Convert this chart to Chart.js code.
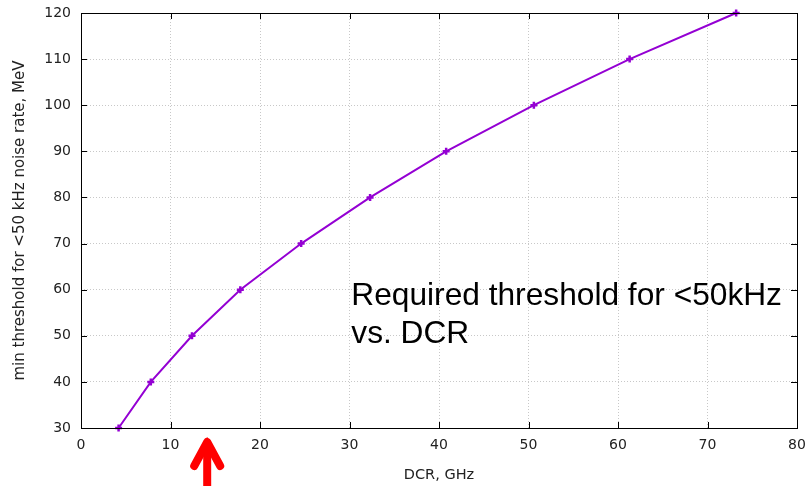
<!DOCTYPE html>
<html>
<head>
<meta charset="utf-8">
<script src="https://cdn.jsdelivr.net/npm/chart.js@4"></script>
<style>
  html, body { margin: 0; padding: 0; background: #fff; }
  #wrap { width: 805px; height: 486px; position: relative; }
</style>
</head>
<body>
<div id="wrap"><canvas id="chart"></canvas></div>
<script>
// Data
const dcrGHz = [4.2, 7.8, 12.4, 17.8, 24.6, 32.3, 40.8, 50.6, 61.3, 73.2];
const thresholdMeV = [30, 40, 50, 60, 70, 80, 90, 100, 110, 120];
const noteLines = ['Required threshold for <50kHz', 'vs. DCR'];
const arrowAt = 14.1; // DCR value under the red arrow

const purple = '#9400d3';
const tickFont = { family: 'DejaVu Sans', size: 14 };

// Frame, inward ticks, note and arrow
const gnuplotFrame = {
    id: 'gnuplotFrame',
    afterDatasetsDraw(chart) {
        const { ctx, chartArea: a, scales } = chart;
        const tl = 6;
        ctx.save();
        ctx.strokeStyle = '#000';
        ctx.lineWidth = 1;
        ctx.beginPath();
        scales.x.ticks.forEach(t => {
            const px = Math.round(scales.x.getPixelForValue(t.value)) + 0.5;
            if (t.value === scales.x.min || t.value === scales.x.max) return;
            ctx.moveTo(px, a.bottom); ctx.lineTo(px, a.bottom - tl);
            ctx.moveTo(px, a.top); ctx.lineTo(px, a.top + tl);
        });
        scales.y.ticks.forEach(t => {
            const py = Math.round(scales.y.getPixelForValue(t.value)) + 0.5;
            if (t.value === scales.y.min || t.value === scales.y.max) return;
            ctx.moveTo(a.left, py); ctx.lineTo(a.left + tl, py);
            ctx.moveTo(a.right, py); ctx.lineTo(a.right - tl, py);
        });
        ctx.stroke();
        ctx.strokeRect(Math.round(a.left) + 0.5, Math.round(a.top) + 0.5,
            Math.round(a.right - a.left), Math.round(a.bottom - a.top));
        ctx.restore();
    },
    afterDraw(chart) {
        const { ctx, chartArea: a, scales } = chart;
        ctx.save();
        // note text
        ctx.fillStyle = '#000';
        ctx.font = '31.7px "Liberation Sans", Arial, sans-serif';
        ctx.textBaseline = 'alphabetic';
        ctx.textAlign = 'left';
        const tx = scales.x.getPixelForValue(30.2);
        const ty = scales.y.getPixelForValue(56.7);
        noteLines.forEach((s, i) => ctx.fillText(s, tx, ty + i * 38));
        // red arrow below the x axis
        const ax = scales.x.getPixelForValue(arrowAt);
        const tipY = a.bottom + 9;
        ctx.strokeStyle = '#ff0000';
        ctx.fillStyle = '#ff0000';
        ctx.lineWidth = 8;
        ctx.lineCap = 'round';
        ctx.lineJoin = 'round';
        ctx.beginPath();
        ctx.moveTo(ax - 13, tipY + 29);
        ctx.lineTo(ax, tipY + 5);
        ctx.lineTo(ax + 13, tipY + 29);
        ctx.stroke();
        ctx.lineCap = 'butt';
        ctx.beginPath();
        ctx.moveTo(ax, tipY + 6);
        ctx.lineTo(ax, chart.height + 2);
        ctx.stroke();
        ctx.beginPath();
        ctx.moveTo(ax, tipY);
        ctx.lineTo(ax - 8, tipY + 13);
        ctx.lineTo(ax + 8, tipY + 13);
        ctx.closePath();
        ctx.fill();
        ctx.restore();
    }
};

new Chart(document.getElementById('chart'), {
    type: 'scatter',
    data: {
        datasets: [{
            data: dcrGHz.map((x, i) => ({ x: x, y: thresholdMeV[i] })),
            showLine: true,
            borderColor: purple,
            backgroundColor: purple,
            borderWidth: 2,
            pointStyle: 'cross',
            pointRadius: 3.5,
            pointBorderWidth: 2.5,
            tension: 0,
            clip: false
        }]
    },
    options: {
        responsive: true,
        maintainAspectRatio: false,
        animation: false,
        layout: { padding: { top: 13, right: 8, left: 0, bottom: 0 } },
        plugins: { legend: { display: false }, tooltip: { enabled: false } },
        scales: {
            x: {
                type: 'linear',
                min: 0, max: 80,
                ticks: { stepSize: 10, color: '#222', font: tickFont, padding: 9, maxRotation: 0 },
                grid: { color: '#c8c8c8', drawTicks: false, lineWidth: 1 },
                border: { display: false, dash: [1, 2] },
                title: { display: true, text: 'DCR, GHz', color: '#222', font: { family: 'DejaVu Sans', size: 14.5 }, padding: { top: 0, bottom: 2 } },
                afterFit(s) { s.height = 58; s.paddingLeft = 0; s.paddingRight = 0; }
            },
            y: {
                type: 'linear',
                min: 30, max: 120,
                ticks: { stepSize: 10, color: '#222', font: tickFont, padding: 10 },
                grid: { color: '#c8c8c8', drawTicks: false, lineWidth: 1 },
                border: { display: false, dash: [1, 2] },
                title: { display: true, text: 'min threshold for <50 kHz noise rate, MeV', color: '#222', font: { family: 'DejaVu Sans', size: 15 }, padding: { top: 11, bottom: 0 } },
                afterFit(s) { s.width = 81; s.paddingTop = 0; s.paddingBottom = 0; }
            }
        }
    },
    plugins: [gnuplotFrame]
});
</script>
</body>
</html>
